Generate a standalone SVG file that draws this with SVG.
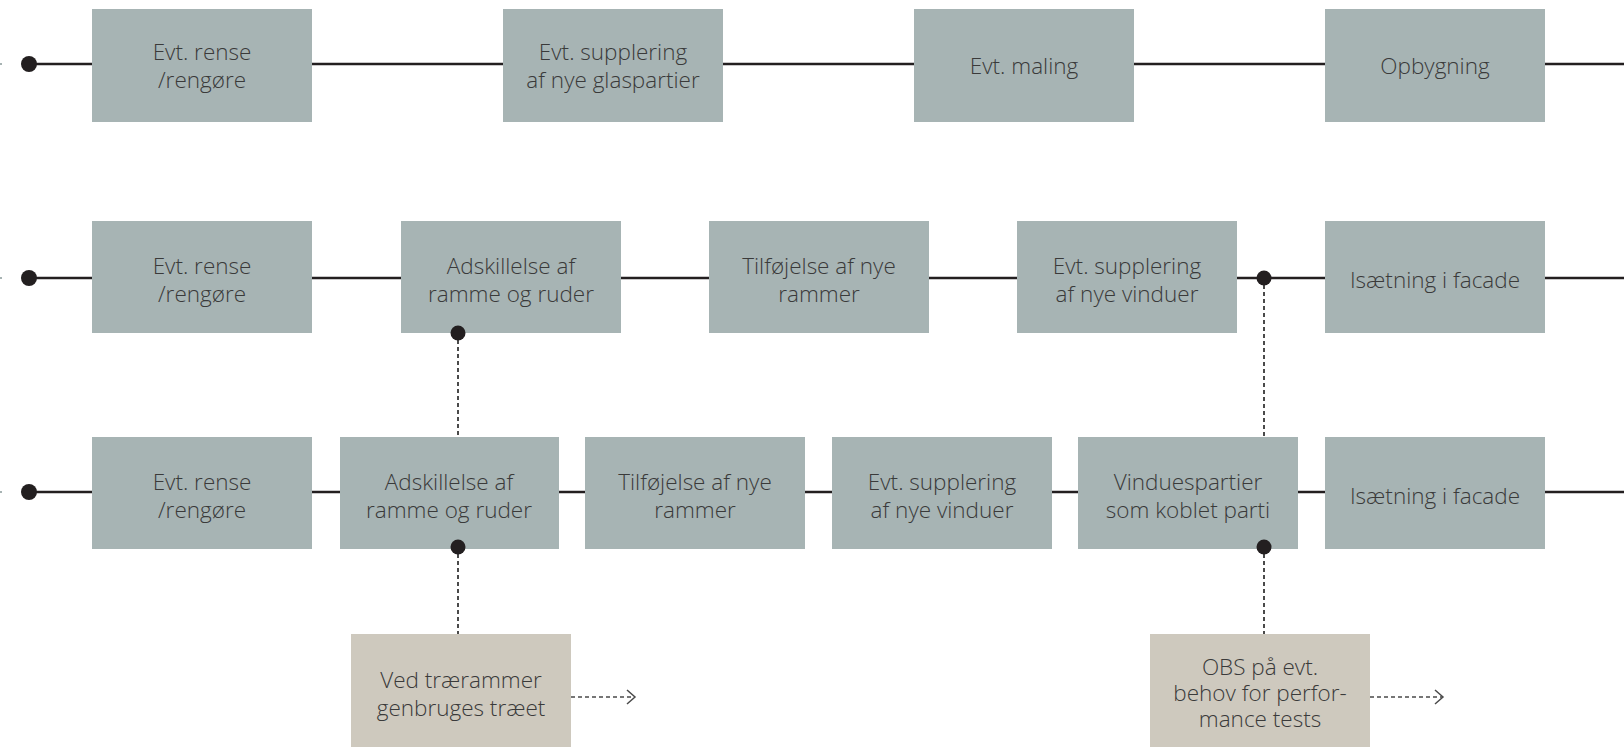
<svg xmlns="http://www.w3.org/2000/svg" width="1624" height="747" viewBox="0 0 1624 747">
  <style>
    .flow { stroke: #231f20; stroke-width: 2.5; fill: none; }
    .link { stroke: #4a4a4a; stroke-width: 2; stroke-dasharray: 4 3; fill: none; }
    .arrow { stroke: #4a4a4a; stroke-width: 1.5; stroke-dasharray: 4 3; fill: none; }
    .head { stroke: #4a4a4a; stroke-width: 1.5; fill: none; }
    .dot { fill: #231f20; }
    .step rect { fill: #a7b4b4; }
    .note rect { fill: #cec9be; }
    text { font-family: "Open Sans", "Liberation Sans", sans-serif; font-weight: 300; font-size: 22.5px; fill: #3a3a3a; text-anchor: middle; }
  </style>

  <g id="connectors">
    <!-- main flow lines -->
    <line class="flow" x1="29" y1="64" x2="1624" y2="64"/>
    <line class="flow" x1="29" y1="278" x2="1624" y2="278"/>
    <line class="flow" x1="29" y1="492" x2="1624" y2="492"/>
    <line x1="0" y1="64" x2="2" y2="64" stroke="#8a9a9a" stroke-width="1.5"/>
    <line x1="0" y1="278" x2="2" y2="278" stroke="#8a9a9a" stroke-width="1.5"/>
    <line x1="0" y1="492" x2="2" y2="492" stroke="#8a9a9a" stroke-width="1.5"/>
    <!-- vertical dotted links -->
    <line class="link" x1="458" y1="333" x2="458" y2="437"/>
    <line class="link" x1="1264" y1="278" x2="1264" y2="437"/>
    <line class="link" x1="458" y1="547" x2="458" y2="634"/>
    <line class="link" x1="1264" y1="547" x2="1264" y2="634"/>
    <!-- outgoing arrows from notes -->
    <line class="arrow" x1="571" y1="697" x2="634" y2="697"/>
    <polyline class="head" points="627,690 635,697 627,704"/>
    <line class="arrow" x1="1370" y1="697" x2="1442" y2="697"/>
    <polyline class="head" points="1435,690 1443,697 1435,704"/>
  </g>

  <!-- row 1 -->
  <g id="r1-rense" class="step"><rect x="92" y="9" width="220" height="113"/><text x="202" y="60">Evt. rense</text><text x="202" y="88">/rengøre</text></g>
  <g id="r1-glas" class="step"><rect x="503" y="9" width="220" height="113"/><text x="613" y="60">Evt. supplering</text><text x="613" y="88">af nye glaspartier</text></g>
  <g id="r1-maling" class="step"><rect x="914" y="9" width="220" height="113"/><text x="1024" y="74">Evt. maling</text></g>
  <g id="r1-opbygning" class="step"><rect x="1325" y="9" width="220" height="113"/><text x="1435" y="74">Opbygning</text></g>

  <!-- row 2 -->
  <g id="r2-rense" class="step"><rect x="92" y="221" width="220" height="112"/><text x="202" y="274">Evt. rense</text><text x="202" y="302">/rengøre</text></g>
  <g id="r2-adskil" class="step"><rect x="401" y="221" width="220" height="112"/><text x="511" y="274">Adskillelse af</text><text x="511" y="302">ramme og ruder</text></g>
  <g id="r2-rammer" class="step"><rect x="709" y="221" width="220" height="112"/><text x="819" y="274">Tilføjelse af nye</text><text x="819" y="302">rammer</text></g>
  <g id="r2-vinduer" class="step"><rect x="1017" y="221" width="220" height="112"/><text x="1127" y="274">Evt. supplering</text><text x="1127" y="302">af nye vinduer</text></g>
  <g id="r2-facade" class="step"><rect x="1325" y="221" width="220" height="112"/><text x="1435" y="288">Isætning i facade</text></g>

  <!-- row 3 -->
  <g id="r3-rense" class="step"><rect x="92" y="437" width="220" height="112"/><text x="202" y="490">Evt. rense</text><text x="202" y="518">/rengøre</text></g>
  <g id="r3-adskil" class="step"><rect x="340" y="437" width="219" height="112"/><text x="449" y="490">Adskillelse af</text><text x="449" y="518">ramme og ruder</text></g>
  <g id="r3-rammer" class="step"><rect x="585" y="437" width="220" height="112"/><text x="695" y="490">Tilføjelse af nye</text><text x="695" y="518">rammer</text></g>
  <g id="r3-vinduer" class="step"><rect x="832" y="437" width="220" height="112"/><text x="942" y="490">Evt. supplering</text><text x="942" y="518">af nye vinduer</text></g>
  <g id="r3-koblet" class="step"><rect x="1078" y="437" width="220" height="112"/><text x="1188" y="490">Vinduespartier</text><text x="1188" y="518">som koblet parti</text></g>
  <g id="r3-facade" class="step"><rect x="1325" y="437" width="220" height="112"/><text x="1435" y="504">Isætning i facade</text></g>

  <!-- notes -->
  <g id="note-trae" class="note"><rect x="351" y="634" width="220" height="113"/><text x="461" y="688">Ved trærammer</text><text x="461" y="716">genbruges træet</text></g>
  <g id="note-obs" class="note"><rect x="1150" y="634" width="220" height="113"/><text x="1260" y="675">OBS på evt.</text><text x="1260" y="701">behov for perfor-</text><text x="1260" y="727">mance tests</text></g>

  <!-- junction dots -->
  <g id="dots">
    <circle class="dot" cx="29" cy="64" r="8"/>
    <circle class="dot" cx="29" cy="278" r="8"/>
    <circle class="dot" cx="29" cy="492" r="8"/>
    <circle class="dot" cx="458" cy="333" r="7.5"/>
    <circle class="dot" cx="1264" cy="278" r="7.5"/>
    <circle class="dot" cx="458" cy="547" r="7.5"/>
    <circle class="dot" cx="1264" cy="547" r="7.5"/>
  </g>
</svg>
